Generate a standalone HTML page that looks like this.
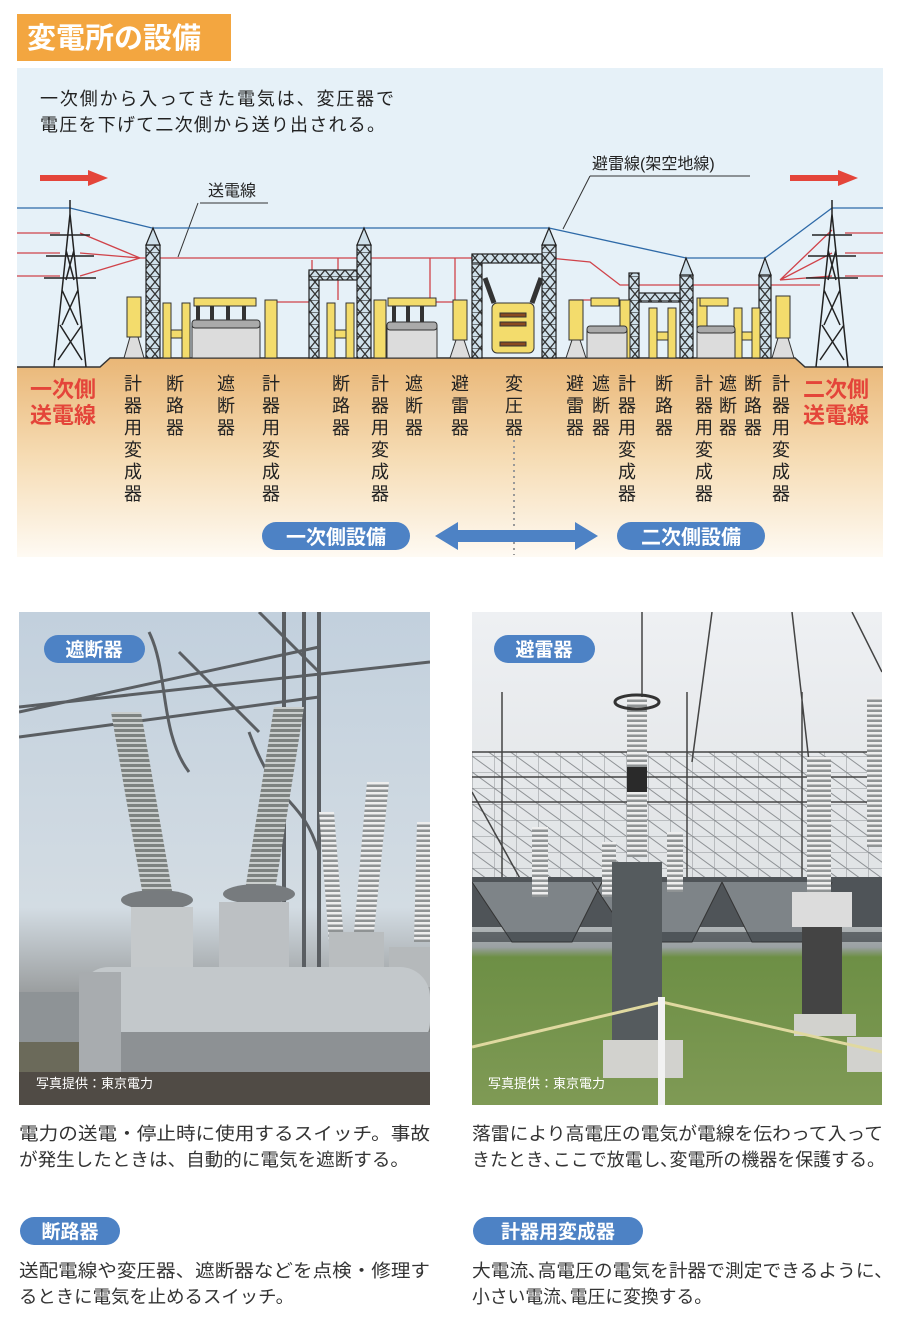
<!DOCTYPE html>
<html><head><meta charset="utf-8">
<style>
html,body{margin:0;padding:0;background:#fff;}
svg{display:block;}
text{font-family:"Liberation Sans","Noto Sans CJK JP",sans-serif;}
</style></head><body>
<svg width="903" height="1323" viewBox="0 0 903 1323" xmlns="http://www.w3.org/2000/svg">
<defs>
<linearGradient id="gnd" x1="0" y1="0" x2="0" y2="1">
<stop offset="0" stop-color="#e9b676"/><stop offset="0.5" stop-color="#f6dcb4"/><stop offset="1" stop-color="#fefaf3"/>
</linearGradient>
<pattern id="lat" width="10" height="12" patternUnits="userSpaceOnUse">
<rect width="10" height="12" fill="#cfe0ea"/>
<path d="M0 0L10 12M10 0L0 12M0 0H10" stroke="#333" stroke-width="1.3" fill="none"/>
</pattern>
<pattern id="rib" width="8" height="5" patternUnits="userSpaceOnUse">
<rect width="8" height="5" fill="#7d8280"/><rect width="8" height="2" fill="#c9cdcc"/>
</pattern>
<pattern id="ribw" width="8" height="5" patternUnits="userSpaceOnUse">
<rect width="8" height="5" fill="#8f9394"/><rect width="8" height="2.5" fill="#eeeeee"/>
</pattern>
<pattern id="grid" width="22" height="16" patternUnits="userSpaceOnUse">
<path d="M0 0H22M0 0V16M0 0L22 16" stroke="#6a6e72" stroke-width="1" fill="none"/>
</pattern>
<linearGradient id="ph1" x1="0" y1="0" x2="0" y2="1">
<stop offset="0" stop-color="#c2d0dd"/><stop offset="0.6" stop-color="#d3dce3"/><stop offset="0.75" stop-color="#a2a6a8"/><stop offset="1" stop-color="#4a4843"/>
</linearGradient>
<linearGradient id="ph2" x1="0" y1="0" x2="0" y2="1">
<stop offset="0" stop-color="#eef0f3"/><stop offset="0.55" stop-color="#e0e3e5"/><stop offset="0.68" stop-color="#9aa0a2"/><stop offset="0.7" stop-color="#6d8f45"/><stop offset="1" stop-color="#7f9a55"/>
</linearGradient>
</defs>

<!-- header -->
<rect x="17" y="14" width="214" height="47" fill="#f3a640"/>
<text x="27" y="48" font-size="29" font-weight="bold" fill="#fff">変電所の設備</text>

<!-- sky -->
<rect x="17" y="68" width="866" height="300" fill="#e6f1f8"/>
<text x="40" y="105" font-size="18" fill="#222" textLength="354">一次側から入ってきた電気は、変圧器で</text>
<text x="40" y="131" font-size="18" fill="#222" textLength="345">電圧を下げて二次側から送り出される。</text>

<rect x="40" y="175" width="50" height="6" fill="#e4453a"/><polygon points="88,170 108,178 88,186" fill="#e4453a"/>
<rect x="790" y="175" width="50" height="6" fill="#e4453a"/><polygon points="838,170 858,178 838,186" fill="#e4453a"/>

<text x="208" y="196" font-size="16" fill="#222">送電線</text>
<path d="M200 203H268M198 203L178 257" stroke="#333" fill="none"/>
<text x="592" y="169" font-size="16" fill="#222">避雷線(架空地線)</text>
<path d="M590 176H750M590 176L563 229" stroke="#333" fill="none"/>

<path d="M17 367H100L110 358H795L805 367H883V557H17Z" fill="url(#gnd)"/>
<path d="M17 367H100L110 358H795L805 367H883" stroke="#333" stroke-width="1.5" fill="none"/>

<path d="M17 208H70L152 228H363M363 228H549L686 258H765L832 208H883" stroke="#2e6aa8" stroke-width="1.3" fill="none"/>
<g stroke="#d0434a" stroke-width="1.3" fill="none">
<path d="M17 233H60M17 253H60M17 276H60"/>
<path d="M80 233L140 258M80 253L140 258M80 276L140 258"/>
<path d="M140 258H500"/>
<path d="M312 260V300M338 258V300M430 258V300M455 258V300"/>
<path d="M549 258L590 262L620 285H820"/>
<path d="M780 280L832 230M780 280L832 253M780 280L832 276"/>
<path d="M845 233H883M845 253H883M845 276H883"/>
<path d="M268 302H310M400 302H460M570 300H620"/>
</g>

<g stroke="#222" stroke-width="1.5" fill="none">
<path d="M70 200V214M70 214L54 367M70 214L86 367M62 290L78 325M78 290L62 325M60 325L82 360M82 325L58 360M66 250L74 280M74 250L66 280"/>
<path d="M50 235H90M46 256H94M44 278H96"/>
<path d="M832 200V214M832 214L816 367M832 214L848 367M824 290L840 325M840 290L824 325M822 325L844 360M844 325L820 360M828 250L836 280M836 250L828 280"/>
<path d="M812 235H852M808 256H856M806 278H858"/>
</g>

<g stroke="#222" stroke-width="1.2">
<rect x="146" y="245" width="14" height="113" fill="url(#lat)"/><polygon points="146,245 153,228 160,245" fill="#cfe0ea"/>
<rect x="357" y="245" width="14" height="113" fill="url(#lat)"/><polygon points="357,245 364,228 371,245" fill="#cfe0ea"/>
<rect x="309" y="272" width="10" height="86" fill="url(#lat)"/><rect x="309" y="270" width="48" height="10" fill="url(#lat)"/>
<rect x="542" y="245" width="14" height="113" fill="url(#lat)"/><polygon points="542,245 549,228 556,245" fill="#cfe0ea"/>
<rect x="472" y="255" width="10" height="103" fill="url(#lat)"/><rect x="472" y="254" width="70" height="9" fill="url(#lat)"/>
<rect x="680" y="275" width="13" height="83" fill="url(#lat)"/><polygon points="680,275 686,258 693,275" fill="#cfe0ea"/>
<rect x="629" y="273" width="10" height="85" fill="url(#lat)"/><rect x="639" y="293" width="41" height="9" fill="url(#lat)"/>
<rect x="759" y="275" width="12" height="83" fill="url(#lat)"/><polygon points="759,275 765,258 771,275" fill="#cfe0ea"/>
</g>

<g stroke="#333" stroke-width="1">
<rect x="127" y="297" width="14" height="40" fill="#f3dc6c"/><polygon points="124,358 130,337 138,337 144,358" fill="#ddd"/>
<rect x="265" y="300" width="12" height="58" fill="#f3dc6c"/>
<rect x="374" y="300" width="12" height="58" fill="#f3dc6c"/>
<rect x="453" y="300" width="14" height="40" fill="#f3dc6c"/><polygon points="450,358 456,340 464,340 470,358" fill="#ddd"/>
<rect x="569" y="300" width="14" height="40" fill="#f3dc6c"/><polygon points="566,358 572,340 580,340 586,358" fill="#ddd"/>
<rect x="620" y="300" width="10" height="58" fill="#f3dc6c"/>
<rect x="697" y="298" width="10" height="60" fill="#f3dc6c"/>
<rect x="776" y="296" width="14" height="42" fill="#f3dc6c"/><polygon points="772,358 778,338 788,338 794,358" fill="#ddd"/>
<path d="M163 303h8v55h-8zM182 303h8v55h-8zM171 330h11v8h-11z" fill="#f3dc6c"/>
<path d="M327 303h8v55h-8zM346 303h8v55h-8zM335 330h11v8h-11z" fill="#f3dc6c"/>
<path d="M649 308h8v50h-8zM668 308h8v50h-8zM657 332h11v8h-11z" fill="#f3dc6c"/>
<path d="M734 308h8v50h-8zM752 308h8v50h-8zM742 332h10v8h-10z" fill="#f3dc6c"/>
<rect x="192" y="325" width="68" height="33" fill="#dcdcdc"/><rect x="192" y="320" width="68" height="8" rx="3" fill="#aaa"/>
<path d="M194 298h62v8h-62z" fill="#f3dc6c"/><path d="M198 306v14M212 306v14M228 306v14M244 306v14" stroke="#333" stroke-width="4"/>
<rect x="387" y="327" width="50" height="31" fill="#dcdcdc"/><rect x="387" y="322" width="50" height="8" rx="3" fill="#aaa"/>
<path d="M388 298h48v8h-48z" fill="#f3dc6c"/><path d="M394 306v16M408 306v16M422 306v16" stroke="#333" stroke-width="4"/>
<rect x="587" y="330" width="40" height="28" fill="#dcdcdc"/><rect x="587" y="326" width="40" height="7" rx="3" fill="#aaa"/>
<path d="M591 298h28v8h-28z" fill="#f3dc6c"/>
<rect x="697" y="330" width="38" height="28" fill="#dcdcdc"/><rect x="697" y="326" width="38" height="7" rx="3" fill="#aaa"/>
<path d="M700 298h28v8h-28z" fill="#f3dc6c"/>
<rect x="492" y="303" width="42" height="50" rx="5" fill="#f3dc6c"/>
<path d="M500 313h26v4h-26zM500 322h26v4h-26zM500 342h26v4h-26z" fill="#8a4a20"/>
<path d="M494 303L485 278M532 303L541 278" stroke="#333" stroke-width="5"/>
</g>

<text x="30" y="397" font-size="22" font-weight="bold" fill="#e4453a">一次側</text>
<text x="30" y="423" font-size="22" font-weight="bold" fill="#e4453a">送電線</text>
<text x="803" y="397" font-size="22" font-weight="bold" fill="#e4453a">二次側</text>
<text x="803" y="423" font-size="22" font-weight="bold" fill="#e4453a">送電線</text>

<g font-size="18" fill="#222" text-anchor="middle">
<text x="133" y="390">計</text><text x="133" y="412">器</text><text x="133" y="434">用</text><text x="133" y="456">変</text><text x="133" y="478">成</text><text x="133" y="500">器</text>
<text x="175" y="390">断</text><text x="175" y="412">路</text><text x="175" y="434">器</text>
<text x="226" y="390">遮</text><text x="226" y="412">断</text><text x="226" y="434">器</text>
<text x="271" y="390">計</text><text x="271" y="412">器</text><text x="271" y="434">用</text><text x="271" y="456">変</text><text x="271" y="478">成</text><text x="271" y="500">器</text>
<text x="341" y="390">断</text><text x="341" y="412">路</text><text x="341" y="434">器</text>
<text x="380" y="390">計</text><text x="380" y="412">器</text><text x="380" y="434">用</text><text x="380" y="456">変</text><text x="380" y="478">成</text><text x="380" y="500">器</text>
<text x="414" y="390">遮</text><text x="414" y="412">断</text><text x="414" y="434">器</text>
<text x="460" y="390">避</text><text x="460" y="412">雷</text><text x="460" y="434">器</text>
<text x="514" y="390">変</text><text x="514" y="412">圧</text><text x="514" y="434">器</text>
<text x="575" y="390">避</text><text x="575" y="412">雷</text><text x="575" y="434">器</text>
<text x="601" y="390">遮</text><text x="601" y="412">断</text><text x="601" y="434">器</text>
<text x="627" y="390">計</text><text x="627" y="412">器</text><text x="627" y="434">用</text><text x="627" y="456">変</text><text x="627" y="478">成</text><text x="627" y="500">器</text>
<text x="664" y="390">断</text><text x="664" y="412">路</text><text x="664" y="434">器</text>
<text x="704" y="390">計</text><text x="704" y="412">器</text><text x="704" y="434">用</text><text x="704" y="456">変</text><text x="704" y="478">成</text><text x="704" y="500">器</text>
<text x="728" y="390">遮</text><text x="728" y="412">断</text><text x="728" y="434">器</text>
<text x="753" y="390">断</text><text x="753" y="412">路</text><text x="753" y="434">器</text>
<text x="781" y="390">計</text><text x="781" y="412">器</text><text x="781" y="434">用</text><text x="781" y="456">変</text><text x="781" y="478">成</text><text x="781" y="500">器</text>
</g>
<path d="M514 440V555" stroke="#999" stroke-width="2" stroke-dasharray="2 4"/>

<rect x="262" y="522" width="148" height="28" rx="14" fill="#4d82c5"/>
<text x="336" y="544" font-size="20" font-weight="bold" fill="#fff" text-anchor="middle">一次側設備</text>
<rect x="617" y="522" width="148" height="28" rx="14" fill="#4d82c5"/>
<text x="691" y="544" font-size="20" font-weight="bold" fill="#fff" text-anchor="middle">二次側設備</text>
<polygon points="435,536 458,522 458,530 575,530 575,522 598,536 575,550 575,542 458,542 458,550" fill="#4d82c5"/>

<!-- photo left -->
<svg x="19" y="612" width="411" height="493" viewBox="0 0 411 493">
<rect width="411" height="493" fill="url(#ph1)"/>
<g stroke="#5a5e62" stroke-width="3" fill="none">
<path d="M0 95L411 50M0 125L300 85M0 100L300 35M240 0L300 60M160 40L240 120"/>
<path d="M265 0V380M285 0V380M300 0V380" stroke-width="4"/>
<path d="M230 120C260 200 280 180 300 240M130 20C150 60 140 120 170 160"/>
</g>
<rect x="0" y="380" width="90" height="60" fill="#8e9396"/>
<g>
<polygon points="92,100 122,100 155,290 125,290" fill="url(#rib)"/>
<polygon points="255,95 285,95 255,285 225,285" fill="url(#rib)"/>
<polygon points="348,170 370,170 355,320 335,320" fill="url(#ribw)"/>
<polygon points="398,210 411,210 411,330 395,330" fill="url(#ribw)"/>
<polygon points="300,200 315,200 325,330 310,330" fill="url(#ribw)"/>
</g>
<ellipse cx="138" cy="288" rx="36" ry="10" fill="#777b7e"/>
<ellipse cx="240" cy="282" rx="36" ry="10" fill="#777b7e"/>
<rect x="112" y="295" width="62" height="65" fill="#c5c9cb"/>
<rect x="200" y="290" width="70" height="75" fill="#bcc0c3"/>
<rect x="310" y="320" width="55" height="50" fill="#b9bdbf"/>
<rect x="370" y="335" width="41" height="40" fill="#b5b9bb"/>
<rect x="60" y="355" width="351" height="85" rx="30" fill="#c3c8cb"/>
<rect x="90" y="420" width="321" height="40" fill="#8d9194"/>
<rect x="60" y="360" width="42" height="110" fill="#a8acaf"/>
<rect x="0" y="460" width="411" height="33" fill="#504b45"/>
<rect x="0" y="430" width="60" height="30" fill="#6b6a5a"/>
<text x="17" y="476" font-size="13" fill="#fff">写真提供：東京電力</text>
</svg>
<rect x="44" y="635" width="101" height="28" rx="14" fill="#4d82c5"/>
<text x="94" y="656" font-size="19" font-weight="bold" fill="#fff" text-anchor="middle">遮断器</text>

<!-- photo right -->
<svg x="472" y="612" width="410" height="493" viewBox="0 0 410 493">
<rect width="410" height="493" fill="url(#ph2)"/>
<rect x="0" y="140" width="410" height="150" fill="url(#grid)" opacity="0.7"/>
<g stroke="#444" stroke-width="1.5" fill="none">
<path d="M0 140H410M0 165H410M0 190H410M30 80V300M215 80V300M330 80V300M170 0V120M240 0L220 150M320 0L345 220M380 0L410 60"/>
<path d="M0 180L50 270"/>
</g>
<rect x="0" y="265" width="410" height="50" fill="#4f5458"/>
<path d="M0 270L40 330H100L130 270M120 270L160 330H220L250 270M250 270L280 330H330L360 270" fill="#7e8488" stroke="#333"/>
<rect x="0" y="320" width="410" height="10" fill="#30353a" opacity="0.6"/>
<g fill="url(#ribw)">
<rect x="155" y="85" width="20" height="70"/><rect x="155" y="175" width="20" height="70"/>
<rect x="335" y="145" width="24" height="135"/>
<rect x="395" y="85" width="15" height="150"/>
<rect x="60" y="215" width="16" height="70"/><rect x="195" y="220" width="16" height="60"/><rect x="130" y="230" width="14" height="55"/>
</g>
<ellipse cx="165" cy="90" rx="22" ry="7" fill="none" stroke="#333" stroke-width="3"/>
<rect x="155" y="155" width="20" height="25" fill="#2a2a2a"/>
<rect x="140" y="250" width="50" height="190" fill="#555b5e"/>
<rect x="320" y="280" width="60" height="35" fill="#dcdcdc"/>
<rect x="330" y="315" width="40" height="90" fill="#444"/>
<rect x="131" y="428" width="80" height="38" fill="#d2d2ce"/>
<rect x="322" y="402" width="62" height="22" fill="#d2d2ce"/>
<rect x="375" y="425" width="35" height="35" fill="#d2d2ce"/>
<path d="M0 435L190 390L410 440" stroke="#e0d9a0" stroke-width="3" fill="none"/>
<rect x="186" y="385" width="7" height="108" fill="#f2f2f2"/>
<text x="16" y="476" font-size="13" fill="#fff">写真提供：東京電力</text>
</svg>
<rect x="494" y="635" width="101" height="28" rx="14" fill="#4d82c5"/>
<text x="544" y="656" font-size="19" font-weight="bold" fill="#fff" text-anchor="middle">避雷器</text>

<g font-size="18" fill="#333">
<text x="19" y="1140" textLength="411" lengthAdjust="spacingAndGlyphs">電力の送電・停止時に使用するスイッチ。事故</text>
<text x="19" y="1166" textLength="390" lengthAdjust="spacingAndGlyphs">が発生したときは、自動的に電気を遮断する。</text>
<text x="472" y="1140" textLength="411" lengthAdjust="spacingAndGlyphs">落雷により高電圧の電気が電線を伝わって入って</text>
<text x="472" y="1166" textLength="413" lengthAdjust="spacingAndGlyphs">きたとき､ここで放電し､変電所の機器を保護する。</text>
<text x="19" y="1277" textLength="411" lengthAdjust="spacingAndGlyphs">送配電線や変圧器、遮断器などを点検・修理す</text>
<text x="19" y="1303" textLength="275" lengthAdjust="spacingAndGlyphs">るときに電気を止めるスイッチ。</text>
<text x="472" y="1277" textLength="412" lengthAdjust="spacingAndGlyphs">大電流､高電圧の電気を計器で測定できるように､</text>
<text x="472" y="1303" textLength="240" lengthAdjust="spacingAndGlyphs">小さい電流､電圧に変換する。</text>
</g>
<rect x="20" y="1217" width="100" height="28" rx="14" fill="#4d82c5"/>
<text x="70" y="1238" font-size="19" font-weight="bold" fill="#fff" text-anchor="middle">断路器</text>
<rect x="473" y="1217" width="170" height="28" rx="14" fill="#4d82c5"/>
<text x="558" y="1238" font-size="19" font-weight="bold" fill="#fff" text-anchor="middle">計器用変成器</text>
</svg>
</body></html>
